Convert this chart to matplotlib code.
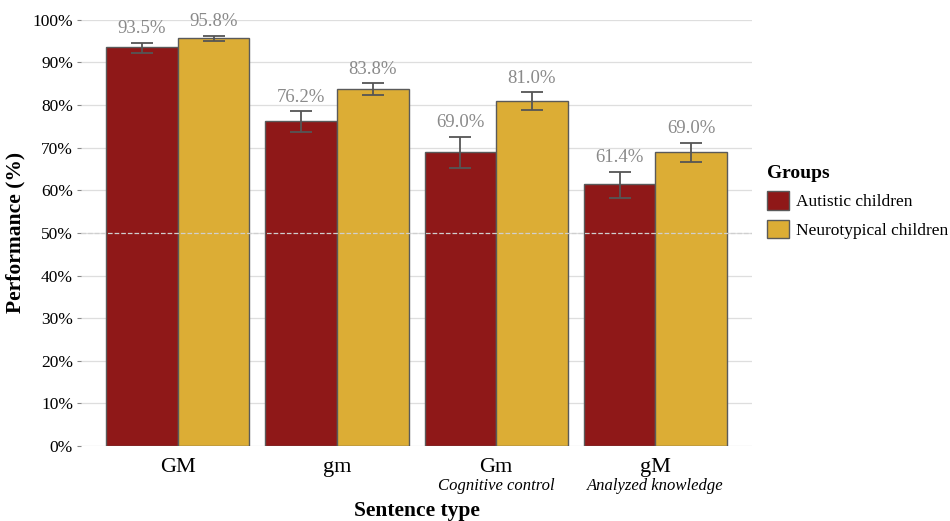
import numpy as np
import matplotlib.pyplot as plt
from matplotlib.patches import Patch
from matplotlib.transforms import offset_copy

plt.rcParams['font.family'] = ['Liberation Serif', 'DejaVu Serif']

# sentence types along the x axis
sentence_types = ["GM", "gm", "Gm", "gM"]
subtitles = ["", "", "Cognitive control", "Analyzed knowledge"]
groups = ["Autistic children", "Neurotypical children"]
colors = ["#8f1818", "#dcad35"]

# mean performance (%) and error bar ranges
autistic = [93.5, 76.2, 69.0, 61.4]
autistic_lo = [92.3, 73.7, 65.3, 58.1]
autistic_hi = [94.6, 78.5, 72.5, 64.4]
neurotyp = [95.8, 83.8, 81.0, 69.0]
neurotyp_lo = [95.1, 82.4, 78.9, 66.6]
neurotyp_hi = [96.3, 85.1, 83.0, 71.2]

fig = plt.figure(figsize=(9.5, 5.21), dpi=100)
ax = fig.add_axes([0.085, 0.144, 0.707, 0.818])

x = np.arange(1, len(sentence_types) + 1)
w = 0.45
series = [(autistic, autistic_lo, autistic_hi), (neurotyp, neurotyp_lo, neurotyp_hi)]
for i, (vals, lo, hi) in enumerate(series):
    xs = x + (i - 0.5) * w
    vals = np.array(vals)
    ax.bar(xs, vals, width=w, color=colors[i], edgecolor="#5a5a5a", linewidth=1, zorder=2)
    err = [vals - np.array(lo), np.array(hi) - vals]
    ax.errorbar(xs, vals, yerr=err, fmt="none", ecolor="#555555", elinewidth=1.3,
                capsize=8, capthick=1.3, zorder=3)
    for xi, h, v in zip(xs, hi, vals):
        ax.annotate(f"{v:.1f}%", (xi, h), xytext=(0, 4), textcoords="offset points",
                    ha="center", va="bottom", fontsize=13.5, color="#8a8a8a")

ax.axhline(50, color="#cfcfcf", linestyle="--", linewidth=0.9, zorder=2.5)

ax.set_xlim(0.39, 4.61)
ax.set_ylim(0, 100)
ax.set_yticks(np.arange(0, 101, 10))
ax.set_yticklabels([f"{t}%" for t in range(0, 101, 10)])
ax.grid(axis="y", color="#dedede", linewidth=0.9, zorder=0)
ax.set_axisbelow(True)
for s in ax.spines.values():
    s.set_visible(False)
ax.tick_params(axis="y", length=3, color="#888888", labelsize=12.5, pad=2.5)
ax.tick_params(axis="x", length=0, labelsize=16, pad=9)
ax.set_xticks(x)
ax.set_xticklabels(sentence_types)

# italic subtitles under the last two categories
tr = offset_copy(ax.get_xaxis_transform(), fig=fig, y=-23, units="points")
for xi, sub in zip(x, subtitles):
    if sub:
        ax.text(xi, 0, sub, transform=tr, ha="center", va="top",
                fontsize=12, style="italic")

ax.set_xlabel("Sentence type", fontsize=15.5, fontweight="bold", labelpad=17)
ax.set_ylabel("Performance (%)", fontsize=15.5, fontweight="bold", labelpad=5)

handles = [Patch(facecolor=c, edgecolor="#5a5a5a", label=g) for c, g in zip(colors, groups)]
leg = fig.legend(handles=handles, title="Groups", loc="upper left",
                 bbox_to_anchor=(0.800, 0.697), frameon=False, fontsize=12.5,
                 title_fontproperties={"weight": "bold", "size": 14},
                 handlelength=1.25, handleheight=1.25, handletextpad=0.4,
                 labelspacing=0.55, borderaxespad=0)
leg._legend_box.align = "left"

fig.savefig("out.png", dpi=100)
